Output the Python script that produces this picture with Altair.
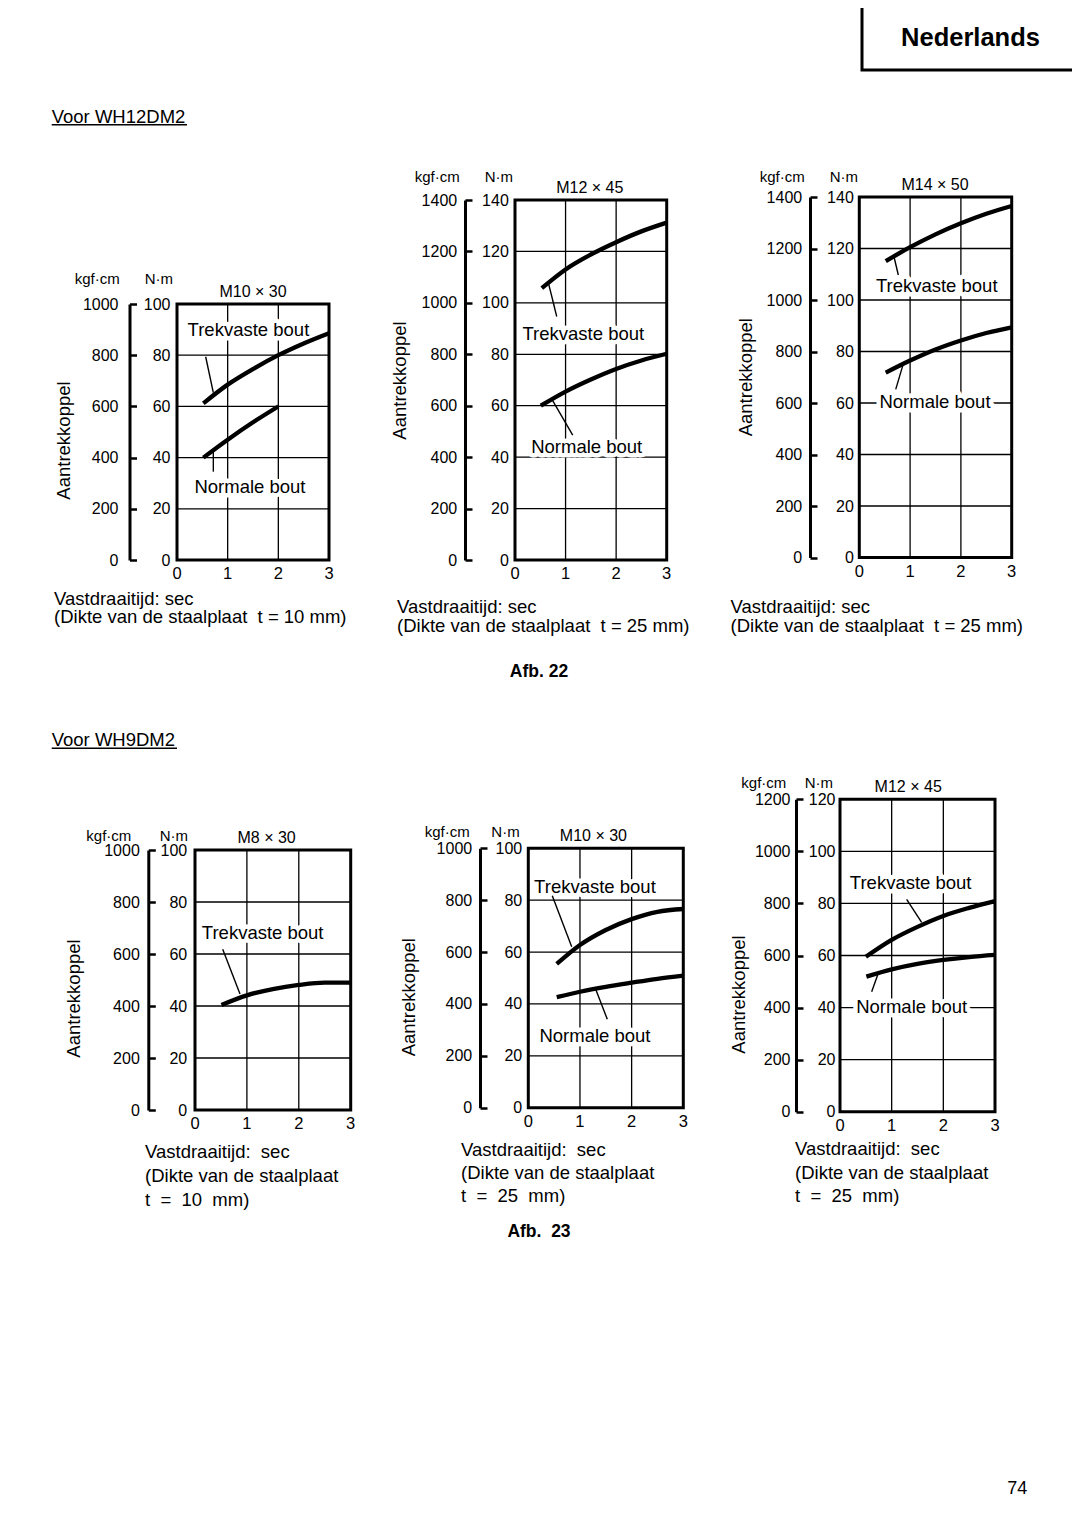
import altair as alt
import pandas as pd

FONT = "Liberation Sans"
M = 8                  # page margin of the html page
W, H = 1064, 1513      # drawing area (1080 x 1529 page minus margins)
SP = "\u00a0"          # non-breaking space (keeps the wide gaps of the original)

# ---------------- texts ----------------
LANGUAGE = "Nederlands"
SECTION_A = "Voor WH12DM2"
SECTION_B = "Voor WH9DM2"
FIG_A = "Afb. 22"
FIG_B = "Afb." + SP + " 23"
PAGE_NO = "74"
Y_TITLE = "Aantrekkoppel"
UNIT_KGF = "kgf·cm"
UNIT_NM = "N·m"
LBL_TREK = "Trekvaste bout"
LBL_NORM = "Normale bout"

X_TICKS = [0, 1, 2, 3]
X_TICK_LABELS = ["0", "1", "2", "3"]

# ---------------- panel data (time s -> torque N·m) ----------------
# Afb. 22  -- WH12DM2
P1_TITLE = "M10 × 30"
P1_YMAX = 100
P1_TREK_T = [0.52, 1.0, 1.5, 2.0, 2.5, 3.0]
P1_TREK_NM = [61.2, 68.5, 74.6, 80.0, 84.6, 88.6]
P1_NORM_T = [0.52, 1.0, 1.5, 2.0]
P1_NORM_NM = [40.0, 47.0, 53.8, 60.0]
P1_XTITLE = ["Vastdraaitijd: sec", "(Dikte van de staalplaat" + SP + " t = 10 mm)"]

P2_TITLE = "M12 × 45"
P2_YMAX = 140
P2_TREK_T = [0.53, 1.0, 1.5, 2.0, 2.5, 3.0]
P2_TREK_NM = [105.7, 113.0, 118.8, 123.6, 127.8, 131.2]
P2_NORM_T = [0.51, 1.0, 1.5, 2.0, 2.5, 3.0]
P2_NORM_NM = [60.0, 65.5, 70.2, 74.3, 77.6, 80.2]
P2_XTITLE = ["Vastdraaitijd: sec", "(Dikte van de staalplaat" + SP + " t = 25 mm)"]

P3_TITLE = "M14 × 50"
P3_YMAX = 140
P3_TREK_T = [0.52, 1.0, 1.5, 2.0, 2.5, 3.0]
P3_TREK_NM = [115.1, 120.5, 125.5, 129.8, 133.5, 136.5]
P3_NORM_T = [0.52, 1.0, 1.5, 2.0, 2.5, 3.0]
P3_NORM_NM = [71.8, 76.5, 80.8, 84.3, 87.2, 89.4]
P3_XTITLE = ["Vastdraaitijd: sec", "(Dikte van de staalplaat" + SP + " t = 25 mm)"]

# Afb. 23  -- WH9DM2
P4_TITLE = "M8 × 30"
P4_YMAX = 100
P4_TREK_T = [0.51, 1.0, 1.5, 2.0, 2.5, 3.0]
P4_TREK_NM = [40.4, 44.1, 46.5, 48.1, 49.0, 49.0]
P4_XTITLE = ["Vastdraaitijd:" + SP + " sec", "(Dikte van de staalplaat",
             "t" + SP + " =" + SP + " 10" + SP + " mm)"]

P5_TITLE = "M10 × 30"
P5_YMAX = 100
P5_TREK_T = [0.55, 1.0, 1.5, 2.0, 2.5, 3.0]
P5_TREK_NM = [55.4, 62.7, 68.5, 72.7, 75.5, 76.6]
P5_NORM_T = [0.55, 1.0, 1.5, 2.0, 2.5, 3.0]
P5_NORM_NM = [42.6, 44.7, 46.6, 48.2, 49.7, 50.9]
P5_XTITLE = ["Vastdraaitijd:" + SP + " sec", "(Dikte van de staalplaat",
             "t" + SP + " =" + SP + " 25" + SP + " mm)"]

P6_TITLE = "M12 × 45"
P6_YMAX = 120
P6_TREK_T = [0.5, 1.0, 1.5, 2.0, 2.5, 3.0]
P6_TREK_NM = [59.5, 66.0, 71.0, 75.2, 78.3, 80.9]
P6_NORM_T = [0.51, 1.0, 1.5, 2.0, 2.5, 3.0]
P6_NORM_NM = [51.9, 54.7, 56.8, 58.3, 59.4, 60.2]
P6_XTITLE = ["Vastdraaitijd:" + SP + " sec", "(Dikte van de staalplaat",
             "t" + SP + " =" + SP + " 25" + SP + " mm)"]

# ---------------- annotations (data units: s, N·m) ----------------
P1_LEADERS = [[(0.566, 79.4), (0.717, 65.4)], [(0.717, 42.3), (0.717, 34.5)]]
P1_LABELS = [(1.41, 89.8, LBL_TREK), (1.44, 28.6, LBL_NORM)]
P2_LEADERS = [[(0.663, 107.6), (0.825, 94.7)], [(0.745, 62.0), (1.141, 48.6)]]
P2_LABELS = [(1.351, 87.9, LBL_TREK), (1.418, 43.8, LBL_NORM)]
P3_LEADERS = [[(0.683, 116.8), (0.768, 109.7)], [(0.854, 74.4), (0.717, 65.3)]]
P3_LABELS = [(1.524, 105.4, LBL_TREK), (1.49, 60.5, LBL_NORM)]
P4_LEADERS = [[(0.534, 61.8), (0.867, 44.6)]]
P4_LABELS = [(1.304, 67.9, LBL_TREK)]
P5_LEADERS = [[(0.464, 81.7), (0.84, 62.0)], [(1.31, 45.4), (1.529, 34.1)]]
P5_LABELS = [(1.29, 85.0, LBL_TREK), (1.29, 27.8, LBL_NORM)]
P6_LEADERS = [[(1.29, 81.6), (1.58, 72.7)], [(0.741, 53.2), (0.613, 46.1)]]
P6_LABELS = [(1.368, 88.0, LBL_TREK), (1.387, 40.1, LBL_NORM)]

# ---------------- layout (page pixels) ----------------
G1 = dict(L=177, R=329, T=304, B=560, K=129.5, kgf_r=118, nm_r=170, at_x=69.8, at_y=440,
          unit_y=278.3, kgf_x=96.7, nm_x=158.3, xt_x=54, xt_y=605, lh=18.4, title_t=1.5)
G2 = dict(L=515, R=666.7, T=200, B=560, K=465, kgf_r=456.7, nm_r=508.3, at_x=405, at_y=380,
          unit_y=176.7, kgf_x=436.7, nm_x=498.3, xt_x=397, xt_y=613.4, lh=18.4, title_t=1.48)
G3 = dict(L=859.3, R=1011.7, T=197, B=557.5, K=810, kgf_r=801.7, nm_r=853.3, at_x=751, at_y=376.7,
          unit_y=176.7, kgf_x=781.7, nm_x=843.3, xt_x=730.5, xt_y=613.4, lh=18.4, title_t=1.49)
G4 = dict(L=195, R=350.7, T=850, B=1110, K=148.3, kgf_r=139.3, nm_r=186.7, at_x=79, at_y=998,
          unit_y=835, kgf_x=108.3, nm_x=173.3, xt_x=145, xt_y=1157.5, lh=24, title_t=1.38)
G5 = dict(L=528.3, R=683.3, T=848.3, B=1107.7, K=480, kgf_r=471.7, nm_r=521.7, at_x=414.8, at_y=996.7,
          unit_y=831.7, kgf_x=446.7, nm_x=505, xt_x=461, xt_y=1156, lh=23, title_t=1.26)
G6 = dict(L=840, R=995, T=799.3, B=1111.7, K=796, kgf_r=790, nm_r=835, at_x=744, at_y=994,
          unit_y=782.7, kgf_x=763.3, nm_x=818.3, xt_x=795, xt_y=1155, lh=23.5, title_t=1.32)

PANELS = [
    (dict(title=P1_TITLE, ymax=P1_YMAX, xtitle=P1_XTITLE,
          curves={"trek": (P1_TREK_T, P1_TREK_NM), "norm": (P1_NORM_T, P1_NORM_NM)},
          leaders=P1_LEADERS, labels=P1_LABELS), G1),
    (dict(title=P2_TITLE, ymax=P2_YMAX, xtitle=P2_XTITLE,
          curves={"trek": (P2_TREK_T, P2_TREK_NM), "norm": (P2_NORM_T, P2_NORM_NM)},
          leaders=P2_LEADERS, labels=P2_LABELS), G2),
    (dict(title=P3_TITLE, ymax=P3_YMAX, xtitle=P3_XTITLE,
          curves={"trek": (P3_TREK_T, P3_TREK_NM), "norm": (P3_NORM_T, P3_NORM_NM)},
          leaders=P3_LEADERS, labels=P3_LABELS), G3),
    (dict(title=P4_TITLE, ymax=P4_YMAX, xtitle=P4_XTITLE,
          curves={"trek": (P4_TREK_T, P4_TREK_NM)},
          leaders=P4_LEADERS, labels=P4_LABELS), G4),
    (dict(title=P5_TITLE, ymax=P5_YMAX, xtitle=P5_XTITLE,
          curves={"trek": (P5_TREK_T, P5_TREK_NM), "norm": (P5_NORM_T, P5_NORM_NM)},
          leaders=P5_LEADERS, labels=P5_LABELS), G5),
    (dict(title=P6_TITLE, ymax=P6_YMAX, xtitle=P6_XTITLE,
          curves={"trek": (P6_TREK_T, P6_TREK_NM), "norm": (P6_NORM_T, P6_NORM_NM)},
          leaders=P6_LEADERS, labels=P6_LABELS), G6),
]


def build_panel(d, g):
    ymax = d["ymax"]
    yt = list(range(0, ymax + 1, 20))
    xs = alt.Scale(domain=[X_TICKS[0], X_TICKS[-1]], range=[g["L"] - M, g["R"] - M], nice=False, zero=False)
    ys = alt.Scale(domain=[0, ymax], range=[g["B"] - M, g["T"] - M], nice=False, zero=False)

    def X(f, axis=None):
        return alt.X(f, type="quantitative", scale=xs, axis=axis)

    def Y(f, axis=None):
        return alt.Y(f, type="quantitative", scale=ys, axis=axis)

    frame_df = pd.DataFrame({"t0": [X_TICKS[0]], "t1": [X_TICKS[-1]], "n0": [0], "n1": [ymax]})
    vg = pd.DataFrame({"t": X_TICKS[1:-1]})
    vg["n0"] = 0
    vg["n1"] = ymax
    hg = pd.DataFrame({"n": yt[1:-1]})
    hg["t0"] = X_TICKS[0]
    hg["t1"] = X_TICKS[-1]
    xt = pd.DataFrame({"t": X_TICKS, "lbl": X_TICK_LABELS})
    xt["n"] = 0

    rows = []
    for name, (ts, ns) in d["curves"].items():
        for t, n in zip(ts, ns):
            rows.append({"t": t, "n": n, "s": name})
    curves = pd.DataFrame(rows)
    lrows = []
    for i, seg in enumerate(d["leaders"]):
        for t, n in seg:
            lrows.append({"t": t, "n": n, "s": str(i)})
    leaders = pd.DataFrame(lrows)
    labels = pd.DataFrame({"t": [p[0] for p in d["labels"]],
                           "n": [p[1] for p in d["labels"]],
                           "txt": [p[2] for p in d["labels"]]})
    title = pd.DataFrame({"t": [g["title_t"]], "n": [ymax], "txt": [d["title"]]})

    nm_axis = alt.Axis(orient="left", offset=-(g["L"] - M), values=yt, format="d",
                       grid=False, domain=False, ticks=False, tickSize=0,
                       labelPadding=g["L"] - g["nm_r"], labelFontSize=16, labelColor="black",
                       labelFont=FONT, title=UNIT_NM, titleAngle=0, titleX=g["nm_x"] - g["L"],
                       titleY=g["unit_y"] - M, titleAlign="center", titleBaseline="middle",
                       titleFontSize=15, titleFontWeight="normal", titleColor="black", titleFont=FONT)
    kgf_lab_axis = alt.Axis(orient="left", offset=-(g["K"] - M), values=yt,
                            labelExpr="format(datum.value * 10, 'd')",
                            grid=False, domain=False, ticks=False, tickSize=0,
                            labelPadding=g["K"] - g["kgf_r"], labelFontSize=16, labelColor="black",
                            labelFont=FONT, title=Y_TITLE, titleAngle=270,
                            titleX=g["at_x"] - g["K"], titleY=g["at_y"] - M, titleAlign="center",
                            titleBaseline="alphabetic", titleFontSize=18.5, titleFontWeight="normal",
                            titleColor="black", titleFont=FONT)
    kgf_line_axis = alt.Axis(orient="right", offset=(g["K"] - M) - W, values=yt, labels=False,
                             grid=False, domain=True, domainColor="black", domainWidth=3,
                             ticks=True, tickColor="black", tickSize=7, tickWidth=2.5,
                             title=UNIT_KGF, titleAngle=0, titleX=g["kgf_x"] - g["K"],
                             titleY=g["unit_y"] - M, titleAlign="center", titleBaseline="middle",
                             titleFontSize=15, titleFontWeight="normal", titleColor="black",
                             titleFont=FONT)

    vgrid_l = alt.Chart(vg).mark_rule(color="black", strokeWidth=1.3).encode(
        x=X("t"), y=Y("n0"), y2="n1")
    hgrid_l = alt.Chart(hg).mark_rule(color="black", strokeWidth=1.3).encode(
        y=Y("n"), x=X("t0"), x2="t1")
    halo_l = alt.Chart(labels).mark_text(font=FONT, fontSize=18.5, color="white", stroke="white",
                                         strokeWidth=9, strokeJoin="round").encode(
        x=X("t"), y=Y("n"), text="txt:N")
    curve_l = alt.Chart(curves).mark_line(color="black", strokeWidth=4.3, interpolate="monotone").encode(
        x=X("t"), y=Y("n"), detail="s:N")
    lead_l = alt.Chart(leaders).mark_line(color="black", strokeWidth=1.4).encode(
        x=X("t"), y=Y("n"), detail="s:N")
    text_l = alt.Chart(labels).mark_text(font=FONT, fontSize=18.5, color="black").encode(
        x=X("t"), y=Y("n"), text="txt:N")
    title_l = alt.Chart(title).mark_text(font=FONT, fontSize=16, color="black", dy=-12.5).encode(
        x=X("t"), y=Y("n"), text="txt:N")
    xtick_l = alt.Chart(xt).mark_text(font=FONT, fontSize=16.5, color="black", baseline="top",
                                      dy=6).encode(x=X("t"), y=Y("n"), text="lbl:N")
    xtitle_l = alt.Chart(pd.DataFrame({"a": [0]})).mark_text(
        font=FONT, fontSize=18.5, color="black", align="left", baseline="alphabetic",
        lineHeight=g["lh"], text=d["xtitle"]).encode(
        x=alt.value(g["xt_x"] - M), y=alt.value(g["xt_y"] - M))
    kgf_lab_l = alt.Chart(frame_df).mark_rect(opacity=0).encode(
        x=X("t0"), x2="t1", y=Y("n0", kgf_lab_axis), y2="n1")
    kgf_line_l = alt.Chart(frame_df).mark_rect(opacity=0).encode(
        x=X("t0"), x2="t1", y=Y("n0", kgf_line_axis), y2="n1")
    frame_l = alt.Chart(frame_df).mark_rect(fill="white", fillOpacity=0, stroke="black",
                                            strokeWidth=3).encode(
        x=X("t0"), x2="t1", y=Y("n0", nm_axis), y2="n1")

    return alt.layer(vgrid_l, hgrid_l, halo_l, curve_l, lead_l, text_l, title_l, xtick_l, xtitle_l,
                     kgf_lab_l, kgf_line_l, frame_l).resolve_axis(y="independent")


def page_text(txt, x, y, size, weight="normal", align="left"):
    return alt.Chart(pd.DataFrame({"txt": [txt]})).mark_text(
        font=FONT, fontSize=size, fontWeight=weight, align=align, baseline="alphabetic",
        color="black").encode(x=alt.value(x - M), y=alt.value(y - M), text="txt:N")


def page_hline(x1, x2, y, width):
    return alt.Chart(pd.DataFrame({"a": [0]})).mark_rule(color="black", strokeWidth=width).encode(
        x=alt.value(x1 - M), x2=alt.value(x2 - M), y=alt.value(y - M))


lang_box = alt.Chart(pd.DataFrame({"a": [0]})).mark_rect(
    fill="white", fillOpacity=0, stroke="black", strokeWidth=3).encode(
    x=alt.value(862 - M), x2=alt.value(1100 - M), y=alt.value(-30), y2=alt.value(70 - M))

page_layers = [
    lang_box,
    page_text(LANGUAGE, 970.5, 46, 25.5, "bold", "center"),
    page_text(SECTION_A, 51.7, 122.7, 18.5),
    page_hline(51.7, 187, 124.8, 1.4),
    page_text(FIG_A, 539, 676.7, 17.5, "bold", "center"),
    page_text(SECTION_B, 51.7, 746, 18.5),
    page_hline(51.7, 177, 748.2, 1.4),
    page_text(FIG_B, 539, 1237, 17.5, "bold", "center"),
    page_text(PAGE_NO, 1017.3, 1494, 18, "normal", "center"),
]

panels = [build_panel(d, g) for d, g in PANELS]

chart = alt.layer(*panels, *page_layers).resolve_scale(
    x="independent", y="independent"
).properties(
    width=W, height=H, padding=0, autosize=alt.AutoSizeParams(type="none")
).configure(font=FONT, background="white").configure_view(stroke=None, strokeWidth=0)

chart.save("out.html", embed_options={"renderer": "svg", "actions": False})
